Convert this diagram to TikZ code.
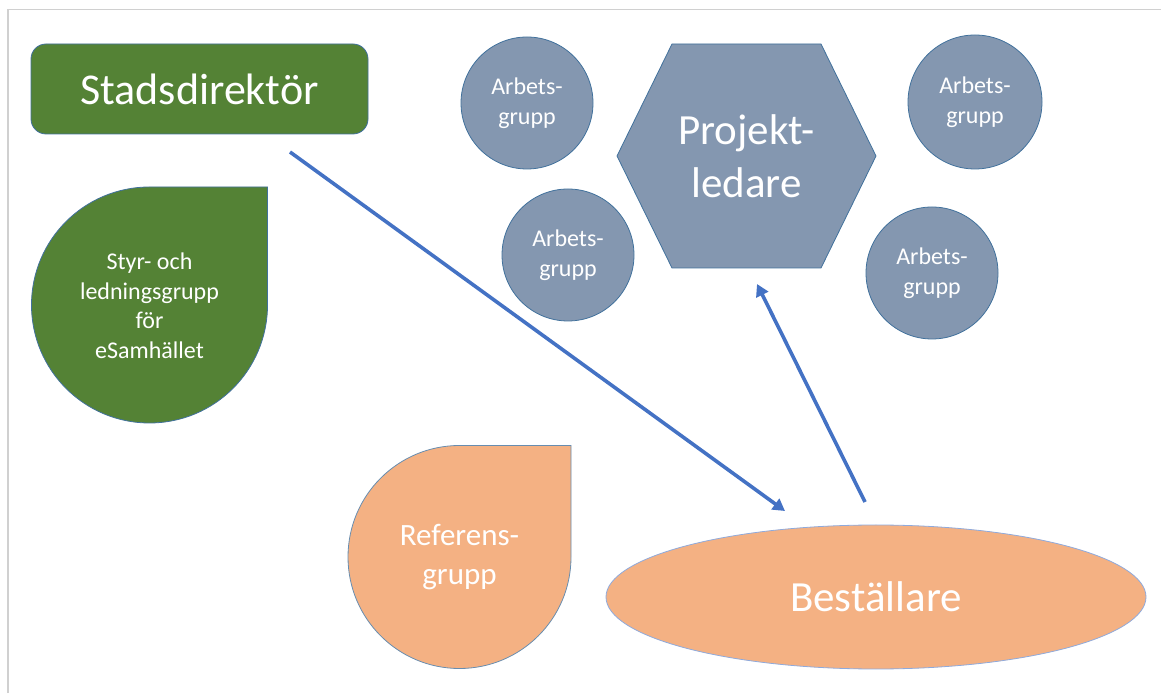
\documentclass[tikz,border=0pt]{standalone}
\usepackage{fontspec}
\setmainfont{Carlito}
\usetikzlibrary{shapes.geometric,arrows.meta}
\definecolor{grn}{HTML}{548235}
\definecolor{shapeline}{HTML}{41719C}
\definecolor{slate}{HTML}{8497B0}
\definecolor{peach}{HTML}{F4B183}
\definecolor{peachline}{HTML}{8FAADC}
\definecolor{arrowblue}{HTML}{4472C4}
\definecolor{framegray}{HTML}{D0D0D0}
\tikzset{
  lbl/.style={text=white, align=center, inner sep=0pt},
  arbets/.style={circle, fill=slate, draw=shapeline, line width=0.8pt, minimum size=132pt, inner sep=0pt,
    text=white, align=center, font=\fontsize{24}{30}\selectfont},
  conn/.style={draw=arrowblue, line width=3.6pt, -{Triangle[length=12pt,width=13pt]}},
}
\begin{document}
\begin{tikzpicture}[x=1pt,y=1pt]
\useasboundingbox (0,0) rectangle (1161,693);
% frame
\draw[framegray, line width=1.2pt] (8,0) -- (8,683.5) -- (1161,683.5);

% Stadsdirektör
\node[rounded corners=15pt, fill=grn, draw=shapeline, line width=0.8pt,
      minimum width=337pt, minimum height=90pt, text=white,
      font=\fontsize{44}{52}\selectfont] (sd) at (199.5,604) {Stadsdirektör};

% Styr- och ledningsgrupp teardrop
\filldraw[fill=grn, draw=shapeline, line width=0.8pt]
  (267.5,506) -- (149.5,506) arc[start angle=90, end angle=360, radius=118] -- cycle;
\node[lbl, font=\fontsize{24}{29.5}\selectfont] (styr) at (149.5,387)
  {Styr- och\\ledningsgrupp\\för\\eSamhället};

% Referensgrupp teardrop
\filldraw[fill=peach, draw=shapeline!80, line width=0.8pt]
  (571,247.5) -- (459.5,247.5) arc[start angle=90, end angle=360, radius=111.5] -- cycle;
\node[lbl, font=\fontsize{31}{39}\selectfont] (ref) at (459.5,136) {Referens-\\grupp};

% Projektledare hexagon
\filldraw[fill=slate, draw=shapeline, line width=0.8pt]
  (672,649) -- (821,649) -- (876,537) -- (821,425) -- (672,425) -- (617,537) -- cycle;
\node[lbl, font=\fontsize{43}{53}\selectfont] (pl) at (746.5,537) {Projekt-\\ledare};

% Arbetsgrupper
\node[arbets] (ag1) at (527,590) {Arbets-\\grupp};
\node[arbets, minimum size=134pt] (ag2) at (975,591) {Arbets-\\grupp};
\node[arbets] (ag3) at (568,438) {Arbets-\\grupp};
\node[arbets] (ag4) at (932,420) {Arbets-\\grupp};

% Beställare
\node[ellipse, fill=peach, draw=peachline, line width=0.8pt,
      minimum width=540pt, minimum height=144pt, inner sep=0pt, text=white,
      font=\fontsize{43}{53}\selectfont] (best) at (876,96) {Beställare};

% connectors
\coordinate (a1s) at (290,541);
\coordinate (a1e) at (785,182);
\coordinate (a2s) at (865,191);
\coordinate (a2e) at (757,409);
\draw[conn] (a1s) -- (a1e);
\draw[conn] (a2s) -- (a2e);
\end{tikzpicture}
\end{document}
